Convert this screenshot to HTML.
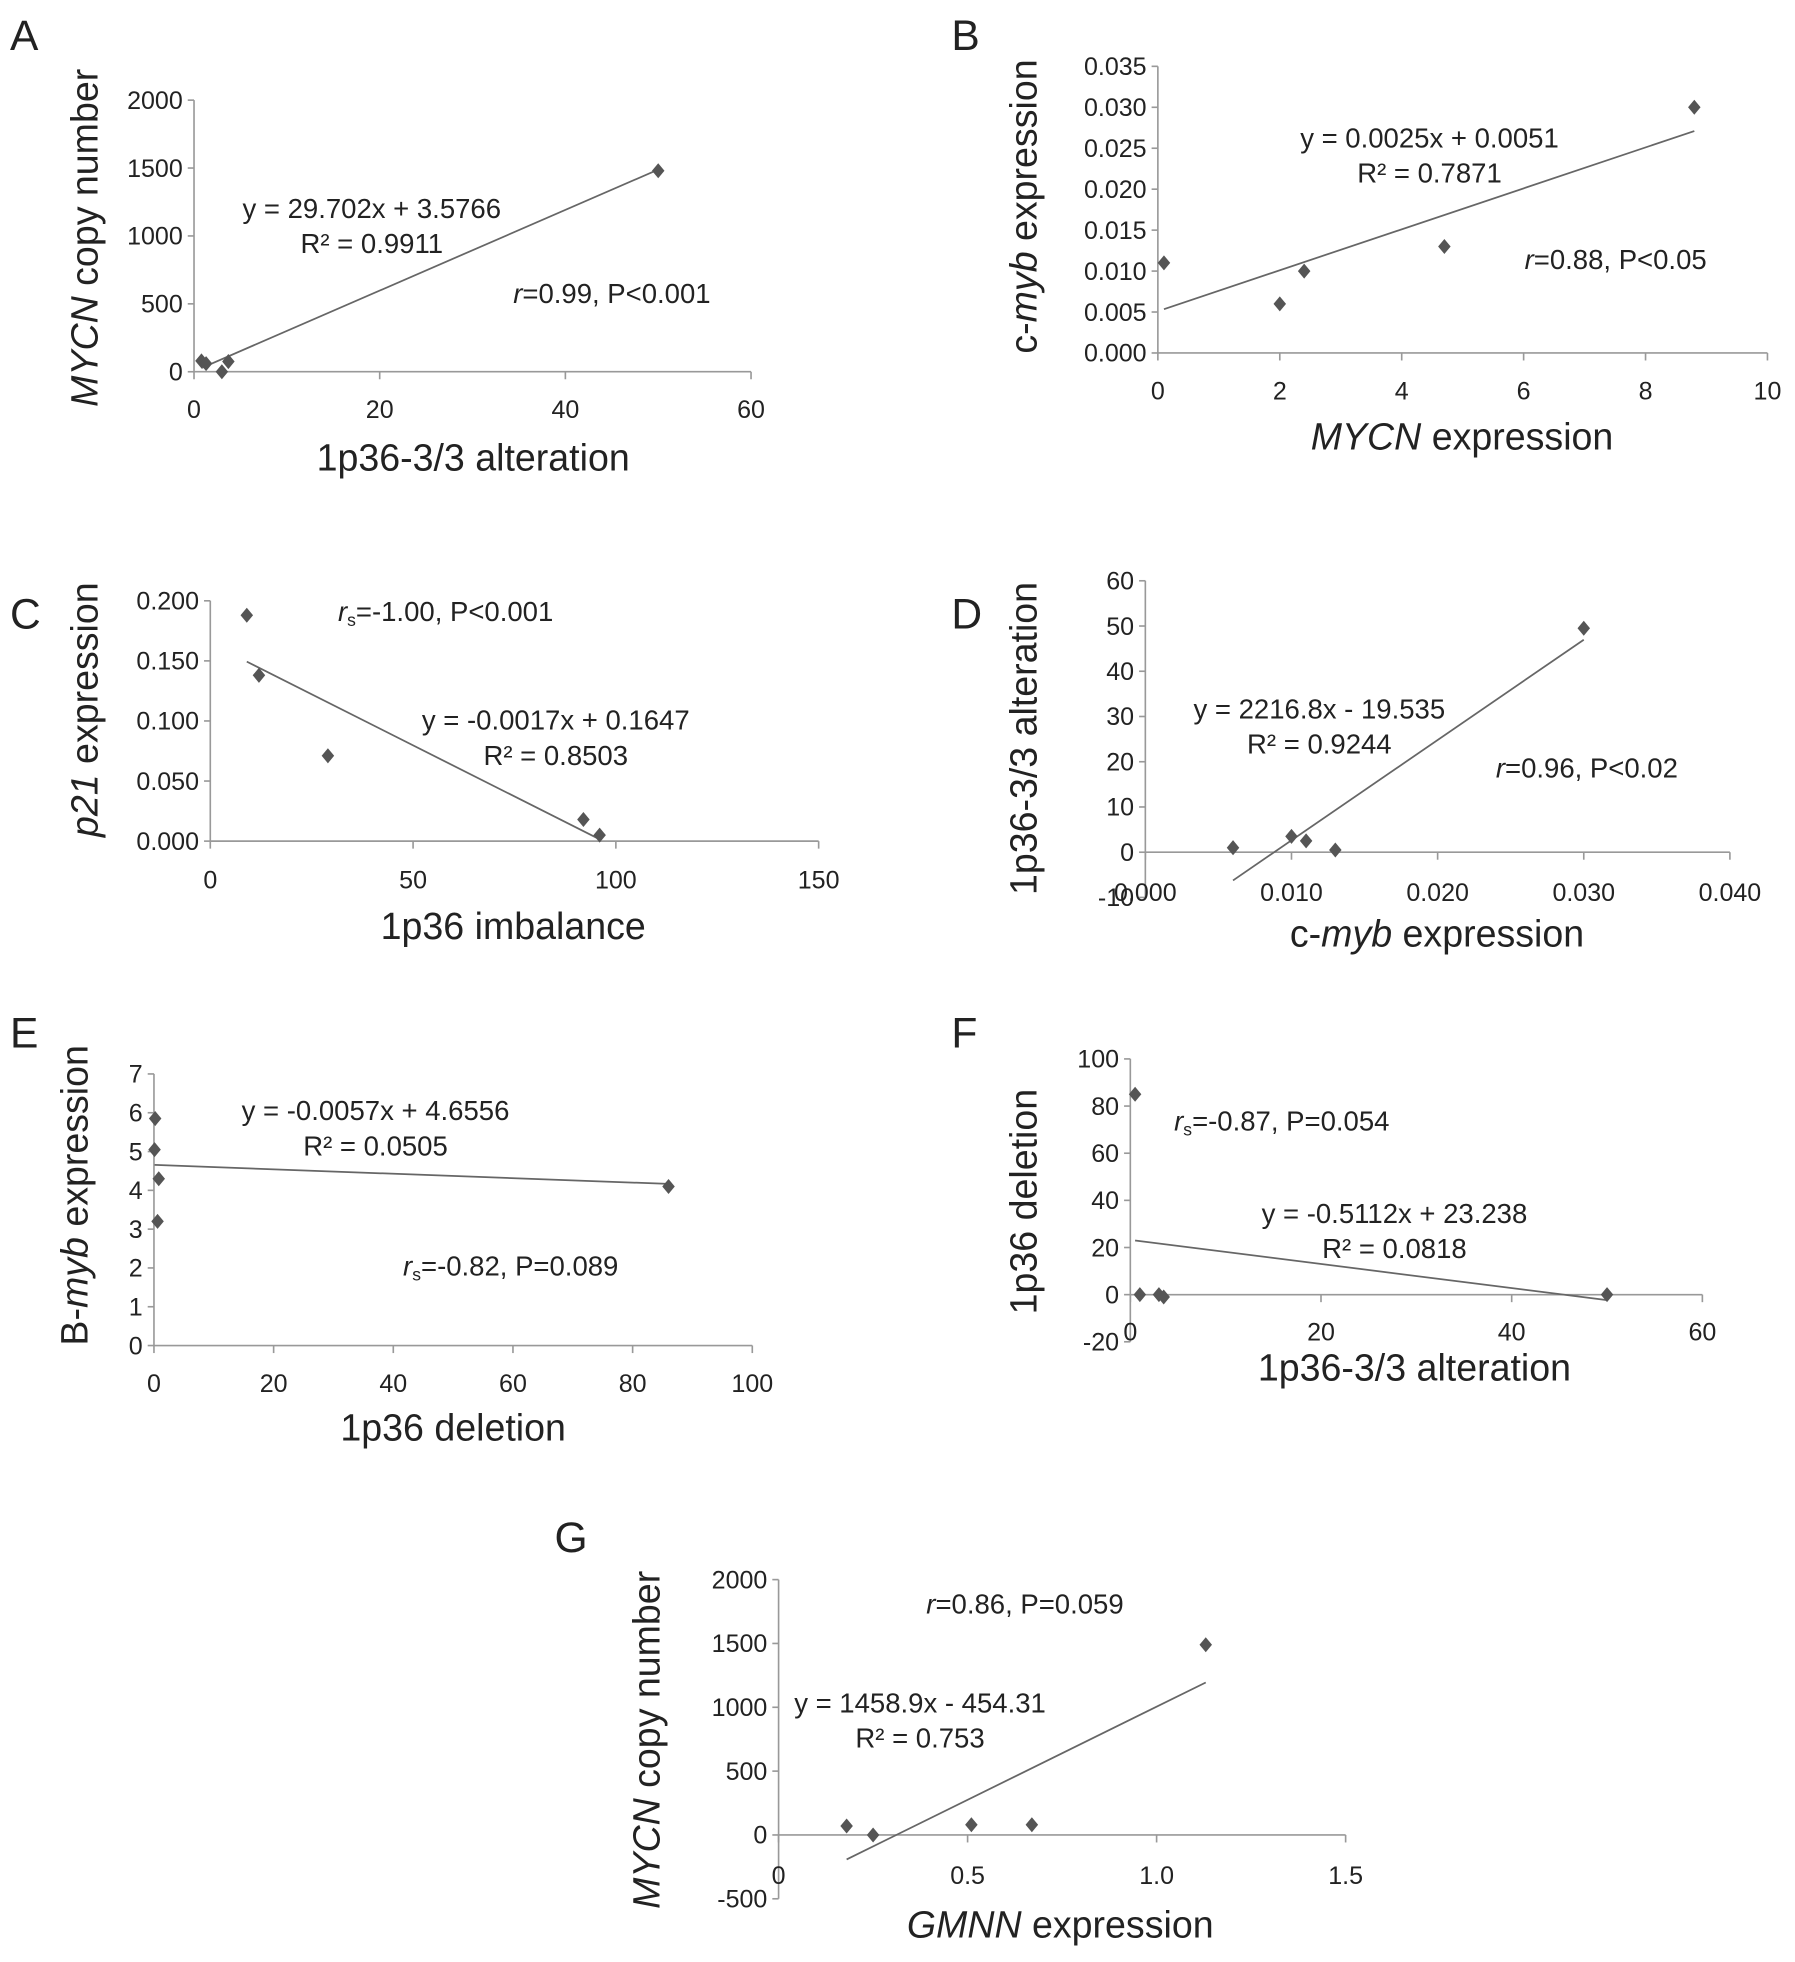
<!DOCTYPE html>
<html><head><meta charset="utf-8"><style>
html,body{margin:0;padding:0;background:#fff}
svg{display:block}
text{font-family:"Liberation Sans",Arial,sans-serif;fill:#222}
.tk{font-size:20px}
.ti{font-size:30px}
.eq{font-size:22px}
.lt{font-size:34px}
</style></head><body>
<svg id="fig" width="1795" height="1962" viewBox="0 0 1434 1567.5" preserveAspectRatio="none" xmlns="http://www.w3.org/2000/svg"></svg>
<script>
// ---- data ----
const aX=[0.8,1.3,3,3.7,50], aY=[80,60,0,75,1480];
const aXTicks=[0,20,40,60], aYTicks=[0,500,1000,1500,2000];
const bX=[0.1,2,2.4,4.7,8.8], bY=[0.011,0.006,0.010,0.013,0.030];
const bXTicks=[0,2,4,6,8,10], bYTicks=[0,0.005,0.010,0.015,0.020,0.025,0.030,0.035];
const cX=[9,12,29,92,96], cY=[0.188,0.138,0.071,0.018,0.005];
const cXTicks=[0,50,100,150], cYTicks=[0,0.05,0.1,0.15,0.2];
const dX=[0.006,0.010,0.011,0.013,0.030], dY=[1,3.5,2.5,0.5,49.5];
const dXTicks=[0,0.01,0.02,0.03,0.04], dYTicks=[-10,0,10,20,30,40,50,60];
const eX=[0.2,0.1,0.8,0.6,86], eY=[5.85,5.05,4.3,3.2,4.1];
const eXTicks=[0,20,40,60,80,100], eYTicks=[0,1,2,3,4,5,6,7];
const fX=[0.5,1,3,3.5,50], fY=[85,0,0,-1,0];
const fXTicks=[0,20,40,60], fYTicks=[-20,0,20,40,60,80,100];
const gX=[0.18,0.25,0.51,0.67,1.13], gY=[70,0,80,80,1490];
const gXTicks=[0,0.5,1,1.5], gYTicks=[-500,0,500,1000,1500,2000];
const fitA=[29.702,3.5766], fitB=[0.0025,0.0051], fitC=[-0.0017,0.1647], fitD=[2216.8,-19.535], fitE=[-0.0057,4.6556], fitF=[-0.5112,23.238], fitG=[1458.9,-454.31];

const NS="http://www.w3.org/2000/svg";
const svg=document.getElementById('fig');
function mk(tag,attrs,parent){const e=document.createElementNS(NS,tag);for(const k in attrs)e.setAttribute(k,attrs[k]);(parent||svg).appendChild(e);return e;}

function panel(p){
  const g=mk('g',{});
  
  
  const sx=v=>p.x0+(v-p.xT[0])/(p.xT[p.xT.length-1]-p.xT[0])*(p.x1-p.x0);
  const sy=v=>p.y0+(v-p.yT[0])/(p.yT[p.yT.length-1]-p.yT[0])*(p.y1-p.y0);
  const axY=sy(p.axisAt||0);
  const yax=mk('line',{x1:p.x0,y1:p.y0,x2:p.x0,y2:p.y1,stroke:'#999','stroke-width':1.3},g);
  
  
  const xax=mk('line',{x1:p.x0,y1:axY,x2:p.x1,y2:axY,stroke:'#999','stroke-width':1.3},g);
  
  
  p.yT.forEach(v=>{
    const y=sy(v);
    mk('line',{x1:p.x0-5,y1:y,x2:p.x0,y2:y,stroke:'#999','stroke-width':1.3},g);
    const t=mk('text',{x:p.x0-9,y:y+7,'text-anchor':'end',class:'tk'},g);
    
    
    t.textContent=p.yf(v);
  });
  p.xT.forEach(v=>{
    const x=sx(v);
    mk('line',{x1:x,y1:axY,x2:x,y2:axY+6,stroke:'#999','stroke-width':1.3},g);
    const t=mk('text',{x:x,y:p.xLabY,'text-anchor':'middle',class:'tk'},g);
    
    
    t.textContent=p.xf(v);
  });
  const xmin=Math.min(...p.X), xmax=Math.max(...p.X);
  const tl=mk('line',{x1:sx(xmin),y1:sy(p.fit[0]*xmin+p.fit[1]),x2:sx(xmax),y2:sy(p.fit[0]*xmax+p.fit[1]),stroke:'#666','stroke-width':1.4},g);
  
  
  p.X.forEach((xv,i)=>{
    const cx=sx(xv), cy=sy(p.Y[i]);
    const d=mk('path',{d:`M${cx} ${cy-6}L${cx+5} ${cy}L${cx} ${cy+6}L${cx-5} ${cy}Z`,fill:'#555'},g);
    
    
  });
  const L=mk('text',{x:p.letter[0],y:p.letter[1],class:'lt'},g);
  
  
  L.textContent=p.id;
  const xt=mk('text',{x:p.xTitle[0],y:p.xTitle[1],'text-anchor':'middle',class:'ti'},g);
  
  
  xt.innerHTML=p.xTitleHtml;
  const yt=mk('text',{x:0,y:0,'text-anchor':'middle',class:'ti',transform:`translate(${p.yTitle[0]},${p.yTitle[1]}) rotate(-90)`},g);
  
  
  yt.innerHTML=p.yTitleHtml;
  const e1=mk('text',{x:p.eq[0],y:p.eq[1],'text-anchor':'middle',class:'eq'},g);
  
  
  e1.textContent=p.eqText;
  const e2=mk('text',{x:p.eq[0],y:p.eq[1]+28,'text-anchor':'middle',class:'eq'},g);
  
  
  e2.textContent=p.r2Text;
  const st=mk('text',{x:p.stat[0],y:p.stat[1],class:'eq'},g);
  
  
  st.innerHTML=p.statHtml;
}
const I=s=>`<tspan font-style="italic">${s}</tspan>`;
const f3=v=>v.toFixed(3), f0=v=>String(v);

panel({id:'A',X:aX,Y:aY,xT:aXTicks,yT:aYTicks,fit:fitA,x0:155,x1:600,y0:297,y1:80,xLabY:334,yf:f0,xf:f0,
  letter:[8,40],xTitle:[378,376],xTitleHtml:'1p36-3/3 alteration',yTitle:[78,190],yTitleHtml:I('MYCN')+' copy number',
  eq:[297,174],eqText:'y = 29.702x + 3.5766',r2Text:'R² = 0.9911',stat:[410,242],statHtml:I('r')+'=0.99, P&lt;0.001'});
panel({id:'B',X:bX,Y:bY,xT:bXTicks,yT:bYTicks,fit:fitB,x0:925,x1:1412,y0:282,y1:53,xLabY:319,yf:f3,xf:f0,
  letter:[760,40],xTitle:[1168,359],xTitleHtml:I('MYCN')+' expression',yTitle:[828,165],yTitleHtml:'c-'+I('myb')+' expression',
  eq:[1142,118],eqText:'y = 0.0025x + 0.0051',r2Text:'R² = 0.7871',stat:[1218,215],statHtml:I('r')+'=0.88, P&lt;0.05'});
panel({id:'C',X:cX,Y:cY,xT:cXTicks,yT:cYTicks,fit:fitC,x0:168,x1:654,y0:672,y1:480,xLabY:710,yf:f3,xf:f0,
  letter:[8,502],xTitle:[410,750],xTitleHtml:'1p36 imbalance',yTitle:[78,567],yTitleHtml:I('p21')+' expression',
  eq:[444,583],eqText:'y = -0.0017x + 0.1647',r2Text:'R² = 0.8503',stat:[270,496],statHtml:I('r')+'<tspan font-size="14" dy="4">s</tspan><tspan dy="-4">=-1.00, P&lt;0.001</tspan>'});
panel({id:'D',X:dX,Y:dY,xT:dXTicks,yT:dYTicks,fit:fitD,x0:915,x1:1382,y0:717,y1:464,axisAt:0,xLabY:720,yf:f0,xf:f3,
  letter:[760,502],xTitle:[1148,756],xTitleHtml:'c-'+I('myb')+' expression',yTitle:[828,590],yTitleHtml:'1p36-3/3 alteration',
  eq:[1054,574],eqText:'y = 2216.8x - 19.535',r2Text:'R² = 0.9244',stat:[1195,621],statHtml:I('r')+'=0.96, P&lt;0.02'});
panel({id:'E',X:eX,Y:eY,xT:eXTicks,yT:eYTicks,fit:fitE,x0:123,x1:601,y0:1075,y1:858,xLabY:1112,yf:f0,xf:f0,
  letter:[8,837],xTitle:[362,1151],xTitleHtml:'1p36 deletion',yTitle:[70,955],yTitleHtml:'B-'+I('myb')+' expression',
  eq:[300,895],eqText:'y = -0.0057x + 4.6556',r2Text:'R² = 0.0505',stat:[322,1019],statHtml:I('r')+'<tspan font-size="14" dy="4">s</tspan><tspan dy="-4">=-0.82, P=0.089</tspan>'});
panel({id:'F',X:fX,Y:fY,xT:fXTicks,yT:fYTicks,fit:fitF,x0:903,x1:1360,y0:1072,y1:846,axisAt:0,xLabY:1071,yf:f0,xf:f0,
  letter:[760,837],xTitle:[1130,1103],xTitleHtml:'1p36-3/3 alteration',yTitle:[828,960],yTitleHtml:'1p36 deletion',
  eq:[1114,977],eqText:'y = -0.5112x + 23.238',r2Text:'R² = 0.0818',stat:[938,903],statHtml:I('r')+'<tspan font-size="14" dy="4">s</tspan><tspan dy="-4">=-0.87, P=0.054</tspan>'});
panel({id:'G',X:gX,Y:gY,xT:gXTicks,yT:gYTicks,fit:fitG,x0:622,x1:1075,y0:1517,y1:1262,axisAt:0,xLabY:1505,yf:f0,xf:v=>v===0?'0':v.toFixed(1),
  letter:[443,1240],xTitle:[847,1548],xTitleHtml:I('GMNN')+' expression',yTitle:[527,1390],yTitleHtml:I('MYCN')+' copy number',
  eq:[735,1368],eqText:'y = 1458.9x - 454.31',r2Text:'R² = 0.753',stat:[740,1289],statHtml:I('r')+'=0.86, P=0.059'});
</script>
</body></html>
